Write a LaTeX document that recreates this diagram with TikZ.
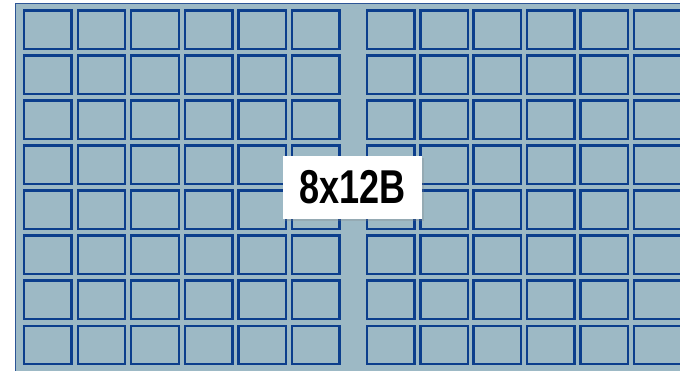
\documentclass[tikz,border=0pt]{standalone}
\usepackage{fontspec}
\setmainfont{Liberation Sans}
\usetikzlibrary{shadows}
\definecolor{platefill}{RGB}{157,185,197}
\definecolor{wellline}{RGB}{12,62,140}
\definecolor{plateline}{RGB}{45,85,150}
\tikzset{
  well/.style={draw=wellline, fill=platefill, line width=2.4pt, minimum width=47.5pt, minimum height=38.4pt, inner sep=0pt, outer sep=0pt},
  plate/.style={draw=plateline, fill=platefill, line width=1.3pt},
  labelbox/.style={fill=white, inner sep=0pt, minimum width=138.7pt, minimum height=62.7pt,
    drop shadow={opacity=0.25, shadow xshift=2pt, shadow yshift=-2pt}}
}
\begin{document}
\begin{tikzpicture}[x=1pt,y=-1pt]
\useasboundingbox (0,0) rectangle (680,370);
\begin{scope}
\clip (0,0) rectangle (680,370);
\fill[white] (0,0) rectangle (680,370);
\draw[plate] (15.6,3.6) rectangle (700,390);
\foreach \j in {0,...,7}{
  \foreach \i in {0,...,5}{
    \node[well] (L\j-\i) at ({47.9+53.55*\i},{29.7+45.03*\j}) {};
    \node[well] (R\j-\i) at ({390.7+53.35*\i},{29.7+45.03*\j}) {};
  }
}
\end{scope}
\node[labelbox] (lbl) at (352.7,187.3) {\fontsize{47.5pt}{50pt}\selectfont\bfseries\scalebox{0.76}[1]{8x12B}};
\end{tikzpicture}
\end{document}
